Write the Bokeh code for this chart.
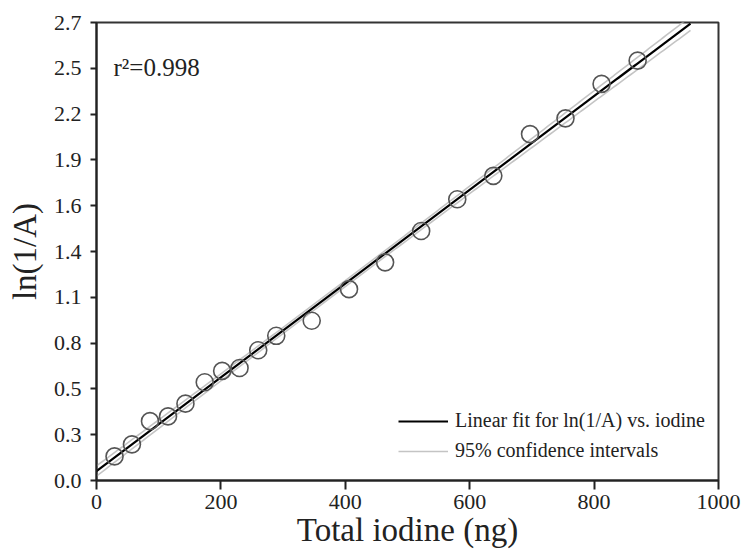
import numpy as np
from bokeh.plotting import figure
from bokeh.models import (Range1d, FixedTicker, CustomJSTickFormatter, Label,
                          Legend, LegendItem)
from bokeh.embed import file_html
from bokeh.resources import INLINE

# ---- data ----
iodine_ng = [29, 57, 86, 115, 143, 174, 202, 230, 260, 289,
             346, 406, 464, 522, 580, 638, 697, 754, 812, 870]
ln_inv_a = [0.142, 0.213, 0.350, 0.378, 0.453, 0.579, 0.646, 0.663, 0.768, 0.853,
            0.942, 1.128, 1.286, 1.471, 1.658, 1.796, 2.042, 2.135, 2.338, 2.475]

x_ticks = [0, 200, 400, 600, 800, 1000]
y_ticks = [0.0, 0.27, 0.54, 0.81, 1.08, 1.35, 1.62, 1.89, 2.16, 2.43, 2.70]
y_tick_labels = ["0.0", "0.3", "0.5", "0.8", "1.1", "1.4", "1.6", "1.9", "2.2", "2.5", "2.7"]
fit_x_range = [0, 955]
r2_text = "r\u00b2=0.998"
x_title = "Total iodine (ng)"
y_title = "ln(1/A)"
legend_labels = ["Linear fit for ln(1/A) vs. iodine", "95% confidence intervals"]

# ---- regression and 95% CI for the mean ----
x = np.array(iodine_ng, float)
y = np.array(ln_inv_a, float)
slope, intercept = np.polyfit(x, y, 1)
n = len(x)
res = y - (slope * x + intercept)
s = np.sqrt(np.sum(res ** 2) / (n - 2))
xbar = x.mean()
sxx = np.sum((x - xbar) ** 2)
t975 = 2.101  # t(0.975, df=18)
xf = np.linspace(fit_x_range[0], fit_x_range[1], 200)
yf = slope * xf + intercept
se = s * np.sqrt(1.0 / n + (xf - xbar) ** 2 / sxx)
y_hi = yf + t975 * se
y_lo = yf - t975 * se

FONT = "Liberation Serif"

p = figure(frame_width=622, frame_height=458,
           x_range=Range1d(0, 1000), y_range=Range1d(0, 2.7),
           output_backend="svg", toolbar_location=None,
           min_border_left=96, min_border_right=24,
           min_border_top=22, min_border_bottom=66,
           background_fill_color="white", border_fill_color="white")

p.grid.visible = False
p.outline_line_color = "#333333"
p.outline_line_width = 2

# axes
p.xaxis.ticker = FixedTicker(ticks=x_ticks)
p.yaxis.ticker = FixedTicker(ticks=y_ticks)
p.yaxis.formatter = CustomJSTickFormatter(args=dict(labels=y_tick_labels),
                                          code="return labels[index];")
for ax in (p.xaxis[0], p.yaxis[0]):
    ax.axis_line_color = "#222222"
    ax.axis_line_width = 2
    ax.major_tick_line_color = "#222222"
    ax.major_tick_line_width = 2
    ax.major_tick_in = 0
    ax.minor_tick_line_color = None
    ax.major_label_text_font = FONT
    ax.major_label_text_font_size = "22px"
    ax.major_label_text_color = "#222222"
    ax.axis_label_text_font = FONT
    ax.axis_label_text_font_size = "33px"
    ax.axis_label_text_font_style = "normal"
    ax.axis_label_text_color = "#222222"

p.xaxis.major_tick_out = 9
p.yaxis.major_tick_out = 6
p.xaxis.major_label_standoff = 5
p.yaxis.major_label_standoff = 9
p.xaxis.axis_label = x_title
p.yaxis.axis_label = y_title
p.xaxis.axis_label_standoff = 0
p.yaxis.axis_label_standoff = 8

# lines
ci_hi = p.line(xf, y_hi, line_color="#c4c4c4", line_width=1.6)
ci_lo = p.line(xf, y_lo, line_color="#c4c4c4", line_width=1.6)
fit = p.line(xf, yf, line_color="black", line_width=2.2)

# points
p.scatter(iodine_ng, ln_inv_a, marker="circle", size=17,
          fill_color=None, line_color="#555555", line_width=1.6)

# r^2 annotation
p.add_layout(Label(x=17, y=413, x_units="screen", y_units="screen",
                   text=r2_text, text_font=FONT, text_font_size="25px",
                   text_color="#222222", text_baseline="alphabetic"))

legend = Legend(items=[LegendItem(label=legend_labels[0], renderers=[fit]),
                       LegendItem(label=legend_labels[1], renderers=[ci_hi])],
                location=(302, 18))
legend.border_line_color = None
legend.background_fill_alpha = 0
legend.padding = 0
legend.margin = 0
legend.spacing = 7
legend.glyph_width = 50
legend.glyph_height = 22
legend.label_height = 22
legend.label_standoff = 7
legend.label_text_font = FONT
legend.label_text_font_size = "20px"
legend.label_text_color = "#222222"
p.add_layout(legend)

open("out.html", "w").write(file_html(p, INLINE))
